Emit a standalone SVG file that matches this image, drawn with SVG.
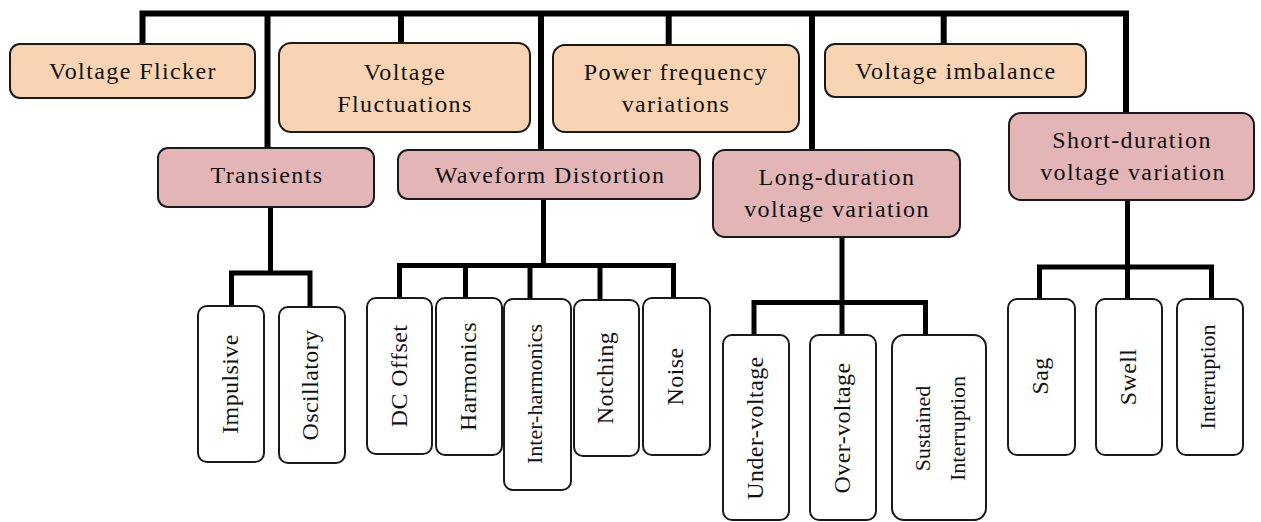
<svg xmlns="http://www.w3.org/2000/svg" width="1261" height="522" viewBox="0 0 1261 522">
<style>
.top{fill:#f9d4b3;stroke:#1a1a1a;stroke-width:2}
.mid{fill:#e4b5b6;stroke:#1a1a1a;stroke-width:2}
.leaf{fill:#ffffff;stroke:#1a1a1a;stroke-width:2}
.t{font-family:"Liberation Serif","Times New Roman",serif;font-size:24px;fill:#111;text-anchor:middle;letter-spacing:1.4px}
.v{font-family:"Liberation Serif","Times New Roman",serif;font-size:24px;fill:#111;text-anchor:middle;letter-spacing:0.4px}
.vs{font-size:22px;letter-spacing:0px}
.c{fill:none;stroke:#000;stroke-width:6;stroke-linejoin:miter;stroke-linecap:butt}
.c2{fill:none;stroke:#000;stroke-width:5;stroke-linejoin:miter;stroke-linecap:butt}
</style>
<rect width="1261" height="522" fill="#ffffff"/>
<g id="connectors">
<path class="c" d="M142.5,44 V13.5 H1126 V113"/>
<path class="c" d="M267.5,13.5 V148"/>
<path class="c" d="M401,13.5 V43"/>
<path class="c" d="M541,13.5 V150"/>
<path class="c" d="M668.7,13.5 V45"/>
<path class="c" d="M812,13.5 V150"/>
<path class="c" d="M943.7,13.5 V44"/>
<path class="c2" d="M270.5,207 V273 M231.5,306 V273 H310 V307"/>
<path class="c2" d="M543.5,199 V265.5 M399.5,298 V265.5 H673.5 V298 M465.5,265.5 V298 M530,265.5 V299 M600,265.5 V300"/>
<path class="c2" d="M842,237 V335 M754,335 V302.5 H925.5 V335"/>
<path class="c2" d="M1127.5,200 V299 M1039.5,299 V267 H1211.5 V299"/>
</g>
<g id="voltage-flicker"><rect class="top" x="10" y="44" width="245" height="54" rx="10"/><text class="t" x="133" y="79">Voltage Flicker</text></g>
<g id="voltage-fluctuations"><rect class="top" x="279" y="43" width="251" height="89" rx="12"/><text class="t" x="405" y="80">Voltage</text><text class="t" x="405" y="112">Fluctuations</text></g>
<g id="power-frequency"><rect class="top" x="553" y="45" width="246" height="87" rx="12"/><text class="t" x="676" y="80">Power frequency</text><text class="t" x="676" y="112">variations</text></g>
<g id="voltage-imbalance"><rect class="top" x="825" y="44" width="261" height="53" rx="10"/><text class="t" x="956" y="79">Voltage imbalance</text></g>
<g id="transients"><rect class="mid" x="158" y="148" width="216" height="59" rx="10"/><text class="t" x="267" y="183">Transients</text></g>
<g id="waveform-distortion"><rect class="mid" x="398" y="150" width="302" height="49" rx="10"/><text class="t" x="550" y="183">Waveform Distortion</text></g>
<g id="long-duration"><rect class="mid" x="713" y="150" width="247" height="87" rx="12"/><text class="t" x="837" y="185">Long-duration</text><text class="t" x="837" y="217">voltage variation</text></g>
<g id="short-duration"><rect class="mid" x="1009" y="113" width="245" height="87" rx="12"/><text class="t" x="1132" y="148">Short-duration</text><text class="t" x="1133" y="180">voltage variation</text></g>
<g id="impulsive"><rect class="leaf" x="198" y="306" width="66" height="156" rx="9"/><text class="v" transform="translate(231,384) rotate(-90)" x="0" y="6.5">Impulsive</text></g>
<g id="oscillatory"><rect class="leaf" x="279" y="307" width="66" height="156" rx="9"/><text class="v" transform="translate(312,385) rotate(-90)" x="0" y="6">Oscillatory</text></g>
<g id="dc-offset"><rect class="leaf" x="367" y="298" width="65" height="156" rx="9"/><text class="v" transform="translate(399.5,376) rotate(-90)" x="0" y="7">DC Offset</text></g>
<g id="harmonics"><rect class="leaf" x="436" y="298" width="66" height="157" rx="9"/><text class="v" transform="translate(469,376.5) rotate(-90)" x="0" y="6.5">Harmonics</text></g>
<g id="inter-harmonics"><rect class="leaf" x="504" y="299" width="67" height="191" rx="9"/><text class="v vs" transform="translate(537.5,394) rotate(-90)" x="0" y="4.5">Inter-harmonics</text></g>
<g id="notching"><rect class="leaf" x="574" y="300" width="65" height="156" rx="9"/><text class="v" transform="translate(606.5,378) rotate(-90)" x="0" y="6.5">Notching</text></g>
<g id="noise"><rect class="leaf" x="643" y="298" width="67" height="157" rx="9"/><text class="v" transform="translate(676.5,376.5) rotate(-90)" x="0" y="6.5">Noise</text></g>
<g id="under-voltage"><rect class="leaf" x="723" y="335" width="66" height="185" rx="9"/><text class="v" transform="translate(756,428) rotate(-90)" x="0" y="6.5">Under-voltage</text></g>
<g id="over-voltage"><rect class="leaf" x="810" y="335" width="66" height="185" rx="9"/><text class="v" transform="translate(843,428) rotate(-90)" x="0" y="7">Over-voltage</text></g>
<g id="sustained-interruption"><rect class="leaf" x="892" y="335" width="94" height="185" rx="12"/><text class="v vs" transform="translate(939,428.5) rotate(-90)" x="0" y="-9">Sustained</text><text class="v vs" transform="translate(939,428.5) rotate(-90)" x="0" y="26">Interruption</text></g>
<g id="sag"><rect class="leaf" x="1008" y="299" width="67" height="156" rx="9"/><text class="v" transform="translate(1041.5,376) rotate(-90)" x="0" y="6.5">Sag</text></g>
<g id="swell"><rect class="leaf" x="1096" y="299" width="66" height="156" rx="9"/><text class="v" transform="translate(1129,377) rotate(-90)" x="0" y="7">Swell</text></g>
<g id="interruption"><rect class="leaf" x="1177" y="299" width="66" height="156" rx="9"/><text class="v vs" transform="translate(1210,377) rotate(-90)" x="0" y="4.5">Interruption</text></g>
</svg>
